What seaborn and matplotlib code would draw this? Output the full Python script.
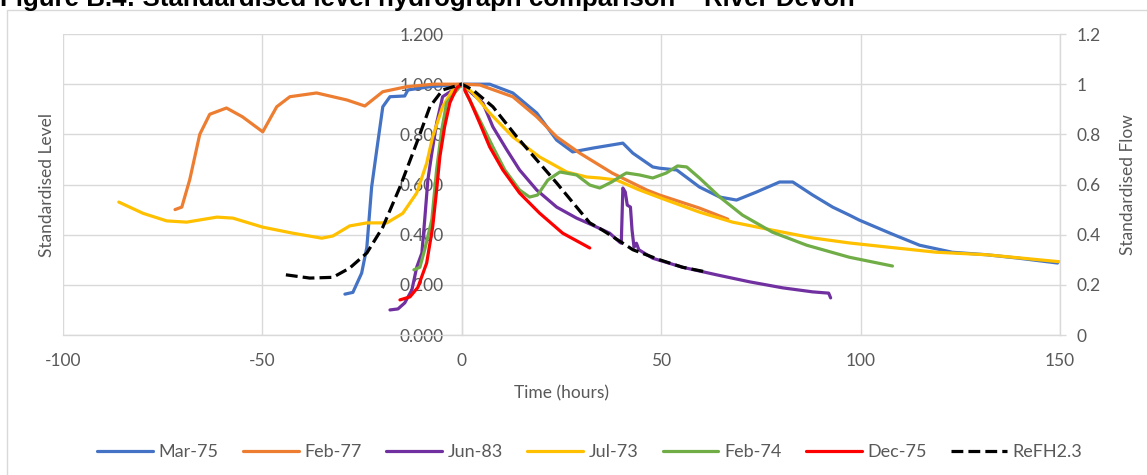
import numpy as np
import pandas as pd
import matplotlib
matplotlib.use("Agg")
import matplotlib.pyplot as plt
import seaborn as sns
from matplotlib.patches import Rectangle

# Series (time in hours, standardised value)
mar75_t = [-29.3, -27.3, -25.1, -23.8, -22.6, -21.3, -19.8, -18.0, -14.3, -13.5, -8.0, 0.0,
           7.0, 12.8, 18.8, 23.8, 27.8, 32.8, 40.4, 42.9, 47.9, 49.6, 53.9, 59.6, 64.7, 68.9,
           73.9, 79.7, 83.0, 88.0, 93.0, 97.2, 99.7, 108.0, 114.8, 123.0, 131.6, 139.8, 149.4]
mar75_v = [0.163, 0.17, 0.247, 0.35, 0.59, 0.74, 0.91, 0.95, 0.953, 0.977, 0.99, 1.0,
           1.0, 0.965, 0.885, 0.777, 0.73, 0.745, 0.765, 0.725, 0.67, 0.665, 0.658, 0.59, 0.55, 0.538,
           0.57, 0.61, 0.61, 0.558, 0.51, 0.478, 0.458, 0.402, 0.358, 0.33, 0.32, 0.306, 0.287]

feb77_t = [-71.9, -70.2, -68.2, -65.7, -63.2, -59.0, -55.0, -49.9, -46.4, -43.1, -36.4, -28.8,
           -24.3, -19.8, -13.8, -7.0, 0.0, 4.5, 12.8, 18.8, 23.8, 29.6, 37.8, 46.4, 49.6, 59.6, 66.7]
feb77_v = [0.50, 0.51, 0.62, 0.80, 0.88, 0.905, 0.87, 0.81, 0.91, 0.95, 0.965, 0.937,
           0.913, 0.97, 0.99, 1.0, 1.0, 0.997, 0.95, 0.87, 0.79, 0.725, 0.645, 0.578, 0.558, 0.506, 0.462]

jun83_t = [-18.0, -16.0, -14.3, -12.5, -11.3, -10.0, -9.3, -8.5, -7.5, -6.3, -4.8, 0.0,
           5.3, 7.8, 11.3, 14.5, 18.8, 23.8, 28.8, 32.8, 37.1, 39.6, 40.0, 40.4, 41.0, 41.5,
           42.3, 42.7, 43.2, 43.8, 44.4, 47.9, 55.4, 63.9, 72.2, 80.5, 88.0, 92.0, 92.5]
jun83_v = [0.10, 0.104, 0.128, 0.18, 0.27, 0.327, 0.458, 0.618, 0.726, 0.845, 0.95, 1.0,
           0.925, 0.83, 0.738, 0.658, 0.578, 0.51, 0.466, 0.438, 0.406, 0.37, 0.366, 0.586, 0.57, 0.518,
           0.51, 0.418, 0.35, 0.366, 0.34, 0.306, 0.27, 0.24, 0.212, 0.188, 0.172, 0.167, 0.148]

jul73_t = [-86.0, -79.9, -74.0, -69.0, -61.4, -57.4, -49.9, -42.4, -35.1, -32.3, -28.1, -23.8,
           -18.8, -14.8, -11.3, -8.8, -7.3, -4.8, -2.3, 0.0, 2.8, 7.0, 12.8, 19.5, 26.3, 31.3,
           34.6, 38.8, 44.6, 51.3, 59.6, 67.9, 77.9, 88.0, 97.2, 106.5, 119.0, 131.6, 150.0]
jul73_v = [0.53, 0.485, 0.455, 0.45, 0.47, 0.466, 0.43, 0.406, 0.386, 0.395, 0.435, 0.447,
           0.447, 0.485, 0.566, 0.685, 0.79, 0.91, 0.977, 1.0, 0.965, 0.885, 0.79, 0.71, 0.65, 0.63,
           0.626, 0.618, 0.578, 0.538, 0.49, 0.45, 0.418, 0.387, 0.367, 0.351, 0.33, 0.32, 0.292]

feb74_t = [-12.0, -10.5, -9.3, -7.5, -6.3, -5.0, -3.8, 0.0, 4.5, 7.8, 10.8, 14.5, 17.0, 19.0,
           21.6, 24.6, 28.8, 32.1, 34.6, 37.6, 40.4, 41.3, 44.6, 47.9, 51.3, 54.1, 56.4, 59.6,
           64.7, 70.4, 77.9, 86.5, 97.2, 108.0]
feb74_v = [0.26, 0.27, 0.34, 0.46, 0.66, 0.82, 0.925, 1.0, 0.857, 0.75, 0.658, 0.578, 0.55, 0.558,
           0.618, 0.65, 0.638, 0.598, 0.586, 0.61, 0.638, 0.646, 0.638, 0.626, 0.646, 0.674, 0.67, 0.626,
           0.55, 0.478, 0.41, 0.358, 0.31, 0.275]

dec75_t = [-15.5, -13.0, -11.0, -8.8, -7.3, -6.3, -5.5, -4.3, -3.0, -1.3, 0.0,
           2.0, 4.5, 7.0, 10.3, 14.5, 19.5, 25.3, 32.1]
dec75_v = [0.14, 0.152, 0.19, 0.287, 0.43, 0.578, 0.71, 0.83, 0.925, 0.985, 1.0,
           0.937, 0.845, 0.75, 0.658, 0.566, 0.486, 0.406, 0.347]

refh_t = [-44.1, -38.1, -32.3, -28.1, -23.8, -19.8, -15.5, -11.3, -8.0, -4.8, 0.0,
          2.8, 7.8, 13.8, 18.8, 23.8, 28.8, 32.1, 35.3, 40.4, 42.9, 49.6, 55.4, 61.4]
refh_v = [0.24, 0.227, 0.23, 0.267, 0.327, 0.43, 0.59, 0.766, 0.91, 0.977, 1.0,
          0.977, 0.91, 0.79, 0.698, 0.606, 0.51, 0.447, 0.418, 0.366, 0.34, 0.30, 0.27, 0.251]

names = ["Mar-75", "Feb-77", "Jun-83", "Jul-73", "Feb-74", "Dec-75", "ReFH2.3"]
colors = ["#4472C4", "#ED7D31", "#7030A0", "#FFC000", "#70AD47", "#FF0000", "#000000"]
series = [(mar75_t, mar75_v), (feb77_t, feb77_v), (jun83_t, jun83_v), (jul73_t, jul73_v),
          (feb74_t, feb74_v), (dec75_t, dec75_v), (refh_t, refh_v)]

x_ticks = [-100, -50, 0, 50, 100, 150]
level_ticks = [0.0, 0.2, 0.4, 0.6, 0.8, 1.0, 1.2]
flow_labels = ["0", "0.2", "0.4", "0.6", "0.8", "1", "1.2"]

sns.set_theme(style="whitegrid")
plt.rcParams["font.family"] = ["Lato", "DejaVu Sans"]
plt.rcParams["axes.unicode_minus"] = False
txt = "#595959"
grid = "#d9d9d9"

fig = plt.figure(figsize=(11.47, 4.75), dpi=100)
ax = fig.add_axes([0.0549, 0.2947, 0.8692, 0.6337])

for (t, v), name, c in zip(series, names, colors):
    if name == "ReFH2.3":
        sns.lineplot(x=t, y=v, ax=ax, color=c, lw=2.3, label=name, sort=False,
                     estimator=None, linestyle="--", dashes=(3, 2))
    else:
        sns.lineplot(x=t, y=v, ax=ax, color=c, lw=2.3, label=name, sort=False, estimator=None)

ax.set_xlim(-100, 150)
ax.set_ylim(0, 1.2)
ax.set_xticks(x_ticks)
ax.set_yticks(level_ticks)
ax.set_yticklabels([f"{v:.3f}" for v in level_ticks])
ax.grid(True, color=grid, lw=1.0)
ax.set_axisbelow(True)
ax.set_facecolor("white")
for s in ["top", "right"]:
    ax.spines[s].set_visible(False)
ax.spines["left"].set_position(("data", 0))
ax.spines["left"].set_color(grid)
ax.spines["bottom"].set_color(grid)
ax.spines["left"].set_linewidth(1.0)
ax.spines["bottom"].set_linewidth(1.0)
ax.tick_params(axis="y", length=0, pad=13, labelsize=12.5, labelcolor=txt)
ax.tick_params(axis="x", length=0, pad=13, labelsize=12.5, labelcolor=txt)
ax.set_xlabel("Time (hours)", fontsize=12.5, color=txt, labelpad=12)
ax.set_ylabel("Standardised Level", fontsize=12.5, color=txt)
ax.yaxis.set_label_coords(-0.008, 0.5)

ax2 = ax.twinx()
ax2.set_ylim(0, 1.2)
ax2.set_yticks(level_ticks)
ax2.set_yticklabels(flow_labels)
ax2.grid(False)
for s in ["top", "left", "bottom"]:
    ax2.spines[s].set_visible(False)
ax2.spines["right"].set_color(grid)
ax2.spines["right"].set_linewidth(1.0)
ax2.tick_params(axis="y", length=4, width=1.0, color=grid, pad=8, labelsize=12.5, labelcolor=txt)
ax2.set_ylabel("Standardised Flow", fontsize=12.5, color=txt, labelpad=14)

handles, labels = ax.get_legend_handles_labels()
ax.legend_.remove()
fig.legend(handles, labels, loc="center", bbox_to_anchor=(0.514, 0.048), ncol=7,
           frameon=False, fontsize=13, handlelength=3.1, handletextpad=0.3,
           columnspacing=1.35, labelcolor=txt)

fig.patches.append(Rectangle((7 / 1147, -0.01), 1.0, 1 - 10 / 475 + 0.01,
                             transform=fig.transFigure, fill=False, edgecolor=grid, lw=1.0))
fig.text(0.0, 1 - 6 / 475, "Figure B.4: Standardised level hydrograph comparison \u2013 River Devon",
         fontsize=18.6, fontweight="bold", family=["Liberation Sans", "DejaVu Sans"],
         va="baseline", ha="left", color="black")

fig.savefig("out.png", dpi=100)
